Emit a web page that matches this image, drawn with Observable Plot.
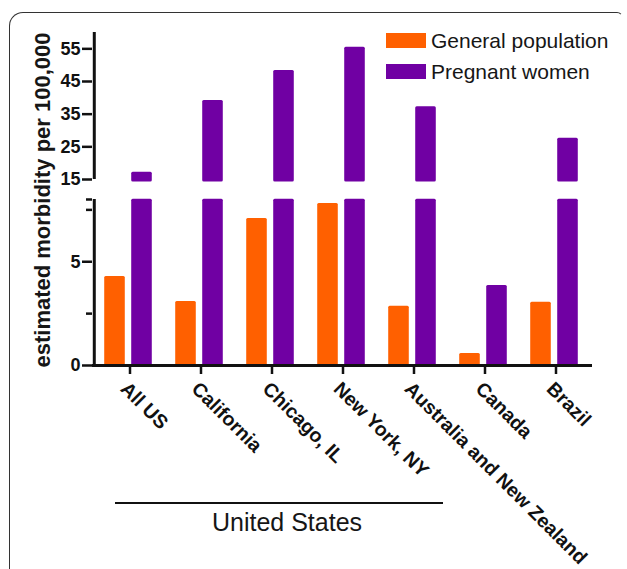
<!DOCTYPE html>
<html><head><meta charset="utf-8">
<script src="https://cdn.jsdelivr.net/npm/d3@7"></script>
<script src="https://cdn.jsdelivr.net/npm/@observablehq/plot@0.6"></script>
<style>
body{margin:0;background:#fff;}
#wrap{position:relative;width:627px;height:569px;overflow:hidden;font-family:"Liberation Sans",Arial,sans-serif;color:#161616;}
#frame{position:absolute;left:9px;top:12px;width:612px;height:620px;border-left:1.5px solid #333;border-top:1.5px solid #333;border-right:1.5px solid transparent;border-top-left-radius:14px;border-top-right-radius:6px;}
#chart{position:absolute;left:0;top:0;}
#ylabel{position:absolute;left:-127px;top:188px;width:340px;line-height:24px;height:24px;text-align:center;font-size:22px;font-weight:bold;transform:rotate(-90deg);white-space:nowrap;}
#legend{position:absolute;left:386px;top:33px;font-size:21px;}
.row{display:flex;align-items:center;height:15px;margin-bottom:16px;}
.sw{width:40px;height:15px;margin-right:5px;}
#usline{position:absolute;left:115px;top:502px;width:328px;height:2px;background:#111;}
#ustext{position:absolute;left:137px;top:507px;width:300px;text-align:center;font-size:25px;line-height:30px;}
</style></head>
<body>
<div id="wrap">
  <div id="frame"></div>
  <div id="chart"></div>
  <div id="ylabel"></div>
  <div id="legend"></div>
  <div id="usline"></div>
  <div id="ustext"></div>
</div>
<script>
// ---- data ----
const categories = ["All US", "California", "Chicago, IL", "New York, NY", "Australia and New Zealand", "Canada", "Brazil"];
const generalPopulation = [4.29, 3.08, 7.08, 7.81, 2.86, 0.58, 3.05];
const pregnantWomen = [17.2, 39.2, 48.4, 55.5, 37.3, 3.86, 27.6];
const seriesNames = ["General population", "Pregnant women"];
const seriesColors = ["#ff6000", "#7000a3"];
const yTicks = [0, 5, 15, 25, 35, 45, 55];
const yMinorTicks = [2.5, 7.5];
const lowerSegment = [0, 8];
const upperSegment = [15, 60];
const yLabel = "estimated morbidity per 100,000";
const groupLabel = "United States";

// ---- layout ----
const W = 627, H = 569;
const mL = 92, mR = 35, mT = 32, mB = 204;
const lowerCut = 8.1, upperCut = 14.1;
const bw = (W - mL - mR) / categories.length;

// split bars at the axis break
const rows = [];
[generalPopulation, pregnantWomen].forEach((vals, s) => {
  vals.forEach((v, i) => {
    if (v <= lowerSegment[1]) rows.push({category: categories[i], series: seriesNames[s], y1: 0, y2: v});
    else {
      rows.push({category: categories[i], series: seriesNames[s], y1: 0, y2: lowerCut});
      rows.push({category: categories[i], series: seriesNames[s], y1: upperCut, y2: v});
    }
  });
});

const barW = 21, gap = 6, shift = -1.5;
const outer = bw / 2 - gap / 2 - barW + shift;
const insets = {
  [seriesNames[0]]: {insetLeft: outer, insetRight: bw - outer - barW},
  [seriesNames[1]]: {insetLeft: outer + barW + gap, insetRight: bw - outer - 2 * barW - gap}
};

const plot = Plot.plot({
  width: W, height: H,
  marginLeft: mL, marginRight: mR, marginTop: mT, marginBottom: mB,
  style: {fontFamily: "'Liberation Sans', Arial, sans-serif", background: "transparent", overflow: "visible"},
  x: {type: "band", domain: categories, padding: 0},
  y: {type: "linear", domain: [0, lowerSegment[1], upperSegment[0], upperSegment[1]], range: [H - mB, 199, 179, mT]},
  color: {domain: seriesNames, range: seriesColors},
  marks: [
    ...seriesNames.map(s => Plot.barY(rows.filter(r => r.series === s), {
      x: "category", y1: "y1", y2: "y2", fill: "series", rx: 1.5, ...insets[s]
    })),
    Plot.ruleY([0], {stroke: "#111", strokeWidth: 3}),
    Plot.ruleX([lowerSegment, upperSegment], {x: () => categories[0], y1: d => d[0], y2: d => d[1], dx: -bw / 2, stroke: "#111", strokeWidth: 3}),
    Plot.axisY(yTicks, {tickSize: 10, tickPadding: 2, fontSize: 18, fontWeight: "bold", fill: "#111", stroke: "#111", strokeWidth: 2.5, label: null}),
    Plot.axisY(yMinorTicks, {tickSize: 6, strokeWidth: 2.5, stroke: "#111", text: null, label: null}),
    Plot.axisY([lowerSegment[1]], {tickSize: 6, strokeWidth: 2.5, stroke: "#111", text: null, label: null}),
    Plot.axisX({tickSize: 9, strokeWidth: 2.5, stroke: "#111", text: null, label: null}),
    Plot.axisX({tickSize: 0, tickRotate: 45, tickPadding: 15, dx: -6, dy: 5, fontSize: 19.5, fontWeight: "bold", fill: "#111", label: null})
  ]
});
document.getElementById("chart").appendChild(plot);

document.getElementById("ylabel").textContent = yLabel;
document.getElementById("ustext").textContent = groupLabel;
const leg = document.getElementById("legend");
seriesNames.forEach((s, i) => {
  const r = document.createElement("div"); r.className = "row";
  const sw = document.createElement("div"); sw.className = "sw"; sw.style.background = seriesColors[i];
  const t = document.createElement("span"); t.textContent = s;
  r.appendChild(sw); r.appendChild(t); leg.appendChild(r);
});
</script>
</body></html>
